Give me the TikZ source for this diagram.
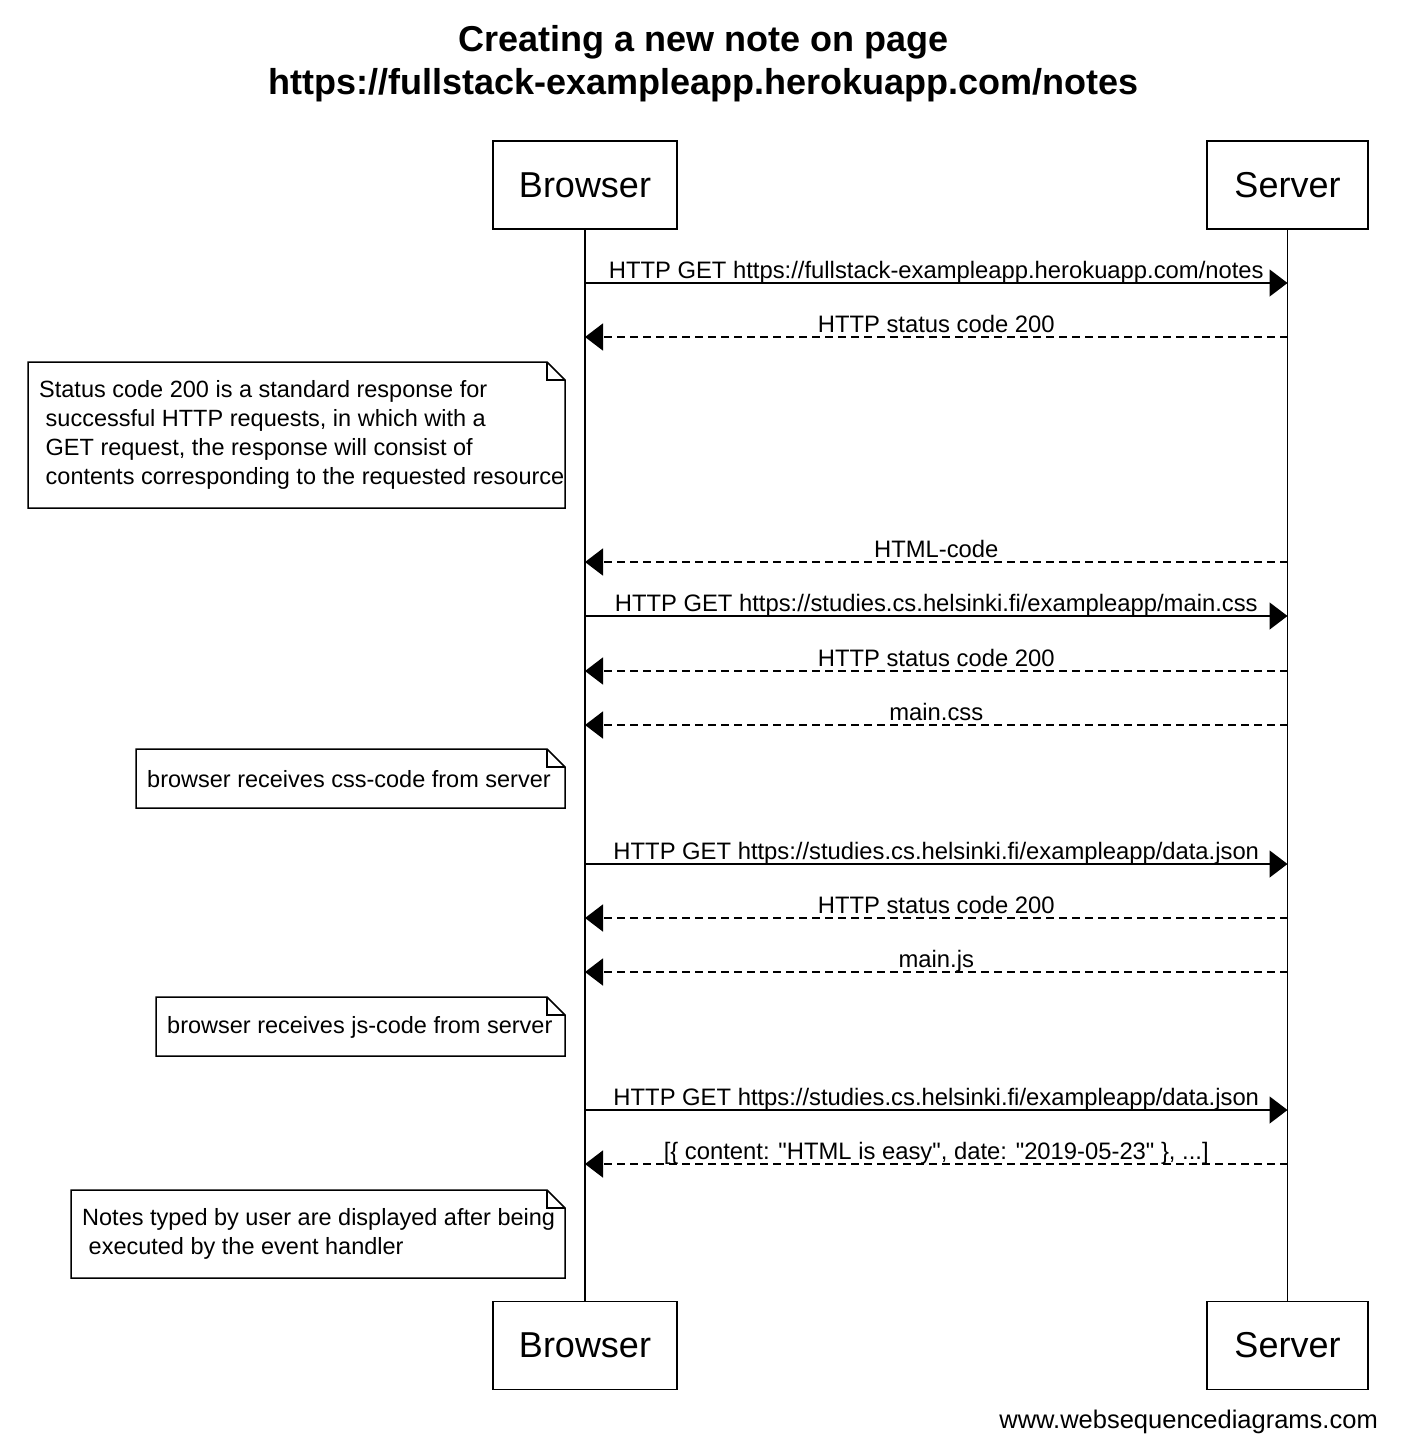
\documentclass[tikz,border=0pt]{standalone}
\usepackage{fontspec}
\setmainfont{Liberation Sans}
\usetikzlibrary{arrows.meta}
\newcommand{\dq}{\XeTeXglyph\XeTeXcharglyph"22\relax}
\begin{document}
\begin{tikzpicture}[x=1pt,y=-1pt,
  actor/.style={draw, line width=1.8pt, minimum height=88pt, inner sep=0pt, font=\fontsize{36}{40}\selectfont},
  life/.style={line width=1.6pt},
  req/.style={line width=1.6pt, -{Triangle[length=18pt,width=27pt]}},
  resp/.style={line width=1.6pt, dash pattern=on 8pt off 5pt, -{Triangle[length=18pt,width=27pt]}},
  lbl/.style={midway, anchor=base, yshift=5pt, inner sep=0pt, font=\fontsize{23.8}{29}\selectfont},
  note/.style={draw, line width=1.5pt, fill=white},
  notetext/.style={anchor=west, align=left, inner sep=0pt, font=\fontsize{23.5}{29}\selectfont}]
\useasboundingbox (0,0) rectangle (1418,1452);
% title
\node[align=center, font=\bfseries\fontsize{36}{43}\selectfont] (title) at (703.5,64)
  {Creating a new note on page\\https://fullstack-exampleapp.herokuapp.com/notes};
% actors
\node[actor, minimum width=184pt] (Btop) at (585,185) {Browser};
\node[actor, minimum width=161pt] (Stop) at (1287.5,185) {Server};
\node[actor, minimum width=184pt] (Bbot) at (585,1345.5) {Browser};
\node[actor, minimum width=161pt] (Sbot) at (1287.5,1345.5) {Server};
\draw[life] (Btop.south) -- (Bbot.north);
\draw[life] (Stop.south) -- (Sbot.north);
% message rows
\coordinate (m1) at (0,283);
\coordinate (m2) at (0,337);
\coordinate (m3) at (0,562);
\coordinate (m4) at (0,616);
\coordinate (m5) at (0,671);
\coordinate (m6) at (0,725);
\coordinate (m7) at (0,864);
\coordinate (m8) at (0,918);
\coordinate (m9) at (0,972);
\coordinate (m10) at (0,1110);
\coordinate (m11) at (0,1164);
\draw[req] (Btop.south |- m1) -- (Stop.south |- m1) node[lbl] {HTTP GET https://fullstack-exampleapp.herokuapp.com/notes};
\draw[resp] (Stop.south |- m2) -- (Btop.south |- m2) node[lbl] {HTTP status code 200};
\draw[resp] (Stop.south |- m3) -- (Btop.south |- m3) node[lbl] {HTML-code};
\draw[req] (Btop.south |- m4) -- (Stop.south |- m4) node[lbl] {HTTP GET https://studies.cs.helsinki.fi/exampleapp/main.css};
\draw[resp] (Stop.south |- m5) -- (Btop.south |- m5) node[lbl] {HTTP status code 200};
\draw[resp] (Stop.south |- m6) -- (Btop.south |- m6) node[lbl] {main.css};
\draw[req] (Btop.south |- m7) -- (Stop.south |- m7) node[lbl] {HTTP GET https://studies.cs.helsinki.fi/exampleapp/data.json};
\draw[resp] (Stop.south |- m8) -- (Btop.south |- m8) node[lbl] {HTTP status code 200};
\draw[resp] (Stop.south |- m9) -- (Btop.south |- m9) node[lbl] {main.js};
\draw[req] (Btop.south |- m10) -- (Stop.south |- m10) node[lbl] {HTTP GET https://studies.cs.helsinki.fi/exampleapp/data.json};
\draw[resp] (Stop.south |- m11) -- (Btop.south |- m11) node[lbl] {[\{ content: \dq HTML is easy\dq, date: \dq 2019-05-23\dq\ \}, ...]};
% notes
\draw[note] (28,362) -- (547,362) -- (565,380) -- (565,508) -- (28,508) -- cycle;
\draw[line width=1.2pt] (547,362) -- (547,380) -- (565,380);
\node[notetext] (n1) at (39,435) {Status code 200 is a standard response for\\
  \hspace*{6.5pt}successful HTTP requests, in which with a\\
  \hspace*{6.5pt}GET request, the response will consist of\\
  \hspace*{6.5pt}contents corresponding to the requested resource};
\draw[note] (136,749) -- (547,749) -- (565,767) -- (565,808) -- (136,808) -- cycle;
\draw[line width=1.2pt] (547,749) -- (547,767) -- (565,767);
\node[notetext] (n2) at (147,779) {browser receives css-code from server};
\draw[note] (156,997) -- (547,997) -- (565,1015) -- (565,1056) -- (156,1056) -- cycle;
\draw[line width=1.2pt] (547,997) -- (547,1015) -- (565,1015);
\node[notetext] (n3) at (167,1027) {browser receives js-code from server};
\draw[note] (71,1190) -- (547,1190) -- (565,1208) -- (565,1278) -- (71,1278) -- cycle;
\draw[line width=1.2pt] (547,1190) -- (547,1208) -- (565,1208);
\node[notetext] (n4) at (82,1234) {Notes typed by user are displayed after being\\
  \hspace*{6.5pt}executed by the event handler};
% footer
\node[anchor=east, inner sep=0pt, font=\fontsize{25.5}{30}\selectfont] (footer) at (1378,1422) {www.websequencediagrams.com};
\end{tikzpicture}
\end{document}
